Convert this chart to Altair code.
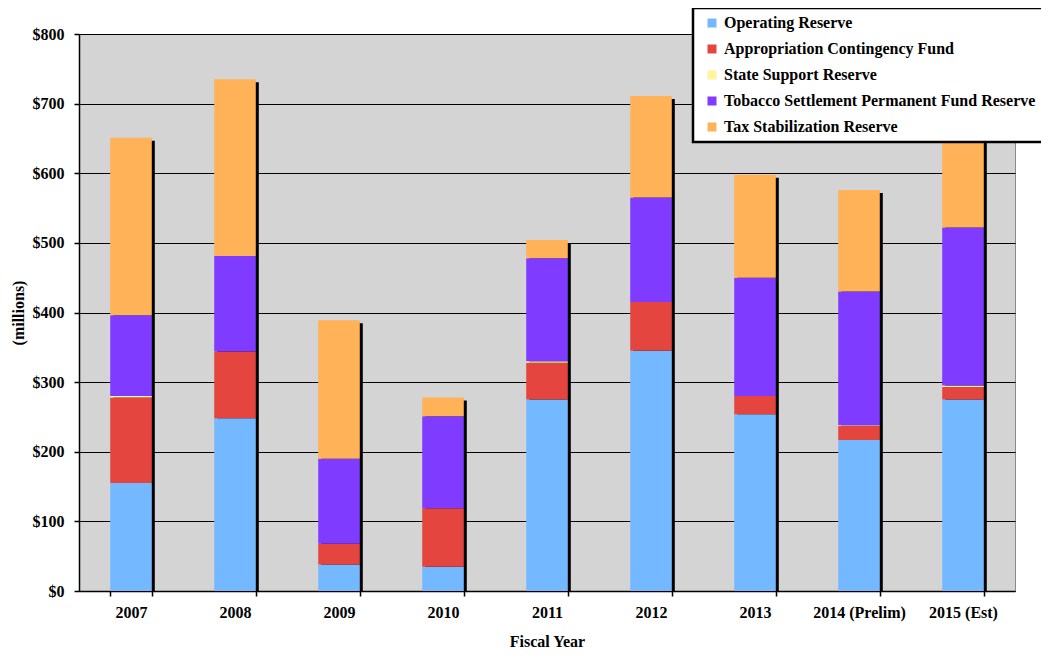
import altair as alt
import pandas as pd

years = ["2007", "2008", "2009", "2010", "2011", "2012", "2013", "2014 (Prelim)", "2015 (Est)"]
series = [
    "Operating Reserve",
    "Appropriation Contingency Fund",
    "State Support Reserve",
    "Tobacco Settlement Permanent Fund Reserve",
    "Tax Stabilization Reserve",
]
colors = ["#74b9ff", "#e4463f", "#fff59d", "#7f3bff", "#ffb257"]

operating = [155, 248, 38, 35, 275, 345, 254, 217, 275]
contingency = [123, 96, 30, 84, 53, 70, 26, 20, 18]
state_support = [2, 0, 0, 0, 2, 0, 0, 1, 2]
tobacco = [116, 137, 122, 132, 148, 150, 170, 192, 227]
tax_stab = [255, 254, 199, 27, 26, 146, 148, 146, 138]
y_ticks = [0, 100, 200, 300, 400, 500, 600, 700, 800]

values = [operating, contingency, state_support, tobacco, tax_stab]
rows = []
for si, (name, vals) in enumerate(zip(series, values)):
    for y, v in zip(years, vals):
        rows.append({"year": y, "series": name, "value": v, "order": si})
df = pd.DataFrame(rows)

FONT = "Liberation Serif"

x_enc = alt.X(
    "year:N",
    sort=years,
    scale=alt.Scale(paddingInner=0.6, paddingOuter=0.3),
    axis=alt.Axis(
        title="Fiscal Year",
        labelAngle=0,
        tickBand="extent",
        labelPadding=8,
        titlePadding=13,
    ),
)

y_scale = alt.Scale(domain=[0, 800])
y_axis = alt.Axis(
    title="(millions)",
    values=y_ticks,
    labelExpr="'$' + datum.value",
    labelPadding=10,
    titlePadding=6,
    labelOverlap=False,
)

shadow = alt.Chart(df).mark_bar(color="black", xOffset=3, yOffset=3).encode(
    x=x_enc,
    y=alt.Y("sum(value):Q", scale=y_scale, axis=y_axis),
)

bars = alt.Chart(df).mark_bar().encode(
    x=x_enc,
    y=alt.Y("value:Q", stack="zero", scale=y_scale, axis=y_axis),
    color=alt.Color(
        "series:N",
        sort=series,
        scale=alt.Scale(domain=series, range=colors),
        legend=alt.Legend(
            title=None,
            orient="none",
            legendX=614,
            legendY=-26,
            symbolType="square",
            symbolSize=81,
            symbolStrokeWidth=0,
            symbolOffset=4,
            labelOffset=4,
            rowPadding=10,
            padding=7,
            fillColor="white",
            strokeColor="black",
            labelLimit=500,
        ),
    ),
    order=alt.Order("order:Q", sort="ascending"),
)

chart = (
    alt.layer(shadow, bars)
    .properties(
        width=936,
        height=557,
        autosize=alt.AutoSizeParams(type="none"),
        padding={"left": 71, "top": 26, "right": 26, "bottom": 61},
        background="white",
    )
    .configure_view(fill="#d4d4d4", stroke="#8a8a8a", strokeWidth=1)
    .configure_axis(
        labelFont=FONT,
        labelFontWeight="bold",
        labelFontSize=16,
        labelColor="black",
        titleFont=FONT,
        titleFontWeight="bold",
        titleFontSize=16,
        titleColor="black",
        domainColor="black",
        domainWidth=1.5,
        tickColor="black",
        tickSize=5,
        tickWidth=1.5,
        gridColor="black",
        gridWidth=1,
        gridOpacity=1,
    )
    .configure_axisX(grid=False)
    .configure_legend(
        labelFont=FONT,
        labelFontWeight="bold",
        labelFontSize=16,
        labelColor="black",
        strokeWidth=2.5,
    )
)

chart.save("out.html", embed_options={"renderer": "svg", "actions": False})
